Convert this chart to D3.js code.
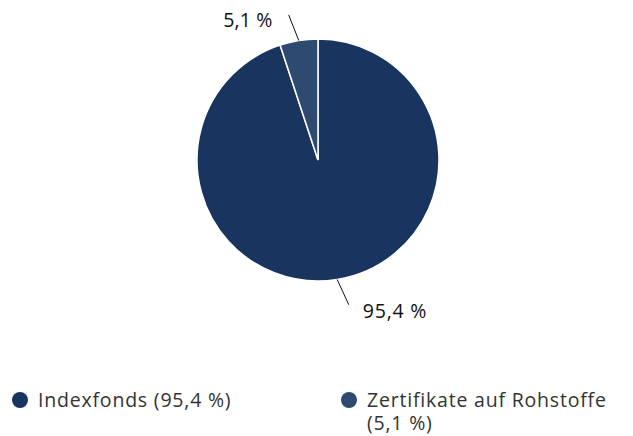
<!DOCTYPE html>
<html lang="de">
<head>
<meta charset="utf-8">
<title>Pie</title>
<script src="https://cdn.jsdelivr.net/npm/d3@7"></script>
<style>
  body { margin: 0; background: #fff; }
  text { font-family: "Open Sans", "Noto Sans", sans-serif; }
</style>
</head>
<body>
<script>
var categories = ["Indexfonds", "Zertifikate auf Rohstoffe"];
var values = [95.4, 5.1];
var valueLabels = ["95,4 %", "5,1 %"];
var colors = ["#18345f", "#2e4a70"];

var w = 633, h = 436;
var cx = 318, cy = 160, r = 121;

var svg = d3.select("body").append("svg")
    .attr("width", w)
    .attr("height", h);

var pie = d3.pie().sort(null).value(function(d) { return d; });
var arcs = pie(values);
var arc = d3.arc().innerRadius(0).outerRadius(r);

var g = svg.append("g").attr("transform", "translate(" + cx + "," + cy + ")");

g.selectAll("path")
    .data(arcs)
    .enter()
    .append("path")
    .attr("d", arc)
    .attr("fill", function(d, i) { return colors[i]; })
    .attr("stroke", "#fff")
    .attr("stroke-width", 1.5);

// leader lines + labels
arcs.forEach(function(d, i) {
    var mid = (d.startAngle + d.endAngle) / 2;
    var left = Math.sin(mid) < 0;
    var outA = mid + (left ? -0.04 : -0.05);
    var x1 = Math.sin(mid) * r, y1 = -Math.cos(mid) * r;
    var x2 = Math.sin(outA) * 148, y2 = -Math.cos(outA) * 148;
    g.append("line")
        .attr("x1", x1).attr("y1", y1)
        .attr("x2", x2).attr("y2", y2)
        .attr("stroke", "#111")
        .attr("stroke-width", 1);
    g.append("text")
        .attr("x", left ? x2 - 16 : x2 + 14)
        .attr("y", left ? y2 + 12 : y2 + 13)
        .attr("text-anchor", left ? "end" : "start")
        .attr("font-size", 19.5)
        .attr("letter-spacing", left ? 0.2 : 0.8)
        .attr("fill", "#111")
        .text(valueLabels[i]);
});

// legend
var legendX = [20, 349];
var legend = svg.selectAll("g.legend")
    .data(categories)
    .enter()
    .append("g")
    .attr("class", "legend")
    .attr("transform", function(d, i) { return "translate(" + legendX[i] + ",400)"; });

legend.append("circle")
    .attr("r", 8)
    .attr("fill", function(d, i) { return colors[i]; });

legend.each(function(d, i) {
    var lines = i === 0
        ? [d + " (" + valueLabels[i] + ")"]
        : [d, "(" + valueLabels[i] + ")"];
    d3.select(this).selectAll("text")
        .data(lines)
        .enter()
        .append("text")
        .attr("x", 18)
        .attr("y", function(t, j) { return 7 + j * 23; })
        .attr("font-size", 19.5)
        .attr("letter-spacing", 0.8)
        .attr("fill", "#333")
        .text(function(t) { return t; });
});
</script>
</body>
</html>
